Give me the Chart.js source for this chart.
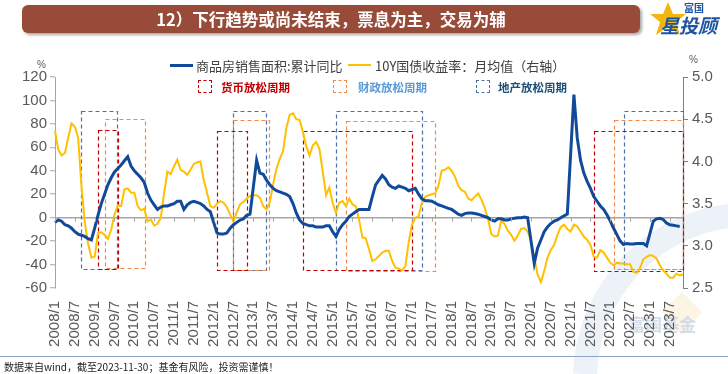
<!DOCTYPE html>
<html>
<head>
<meta charset="utf-8">
<script src="https://cdn.jsdelivr.net/npm/chart.js@4.4.0/dist/chart.umd.min.js"></script>
<style>
  html, body { margin: 0; padding: 0; background: #fff; }
  #wrap { position: relative; width: 728px; height: 374px; overflow: hidden; font-family: "Noto Sans CJK SC", sans-serif; }
  #wm { position: absolute; left: 0; top: 0; z-index: 0; }
  #c { position: absolute; left: 0; top: 0; z-index: 1; }
  .banner { position: absolute; left: 22px; top: 5px; width: 618px; height: 28px; background: #984B38; border-radius: 6px;
    box-shadow: 2px 2px 3px rgba(0,0,0,0.35); color: #fff; font-weight: bold; font-size: 16.5px; line-height: 28px; text-align: center; z-index: 2; }
  .abs { position: absolute; z-index: 2; white-space: nowrap; }
  .lg1 { font-size: 13px; color: #404040; }
  .lg2 { font-size: 11.5px; font-weight: bold; }
  .sw { position: absolute; z-index: 2; }
  .box { position: absolute; z-index: 2; width: 12px; height: 11px; border: 1px dashed; }
  .unit { font-family: Arial, "Liberation Sans", sans-serif; font-size: 10px; color: #595959; }
  .foot { left: 4px; top: 359px; font-size: 10px; color: #222; }
  .hr { position: absolute; left: 0; top: 356px; width: 728px; height: 1px; background: #8EA5C3; z-index: 2; }
</style>
</head>
<body>
<div id="wrap">
  <svg id="wm" width="728" height="374">
    <path d="M 585 374 A 165 165 0 0 1 740 215" fill="none" stroke="#EDF1F8" stroke-width="24"/>
    <polygon points="682,292 702,312 682,335 662,312" fill="#FCF5E4"/>
    <text x="628" y="331" font-size="17" font-weight="bold" fill="#D3DCE8" font-family="Noto Sans CJK SC">富国基金</text>
  </svg>
  <canvas id="c" width="728" height="374"></canvas>

  <div class="banner">12）下行趋势或尚未结束，票息为主，交易为辅</div>
  <svg class="abs" style="left:644px;top:0px" width="84" height="40">
    <polygon points="24,2 29,14 42,14 32,22 36,35 24,27 12,35 16,22 6,14 19,14" fill="#F2B70F"/>
    <text x="40" y="12" font-size="10" font-weight="bold" fill="#1D55A5" font-family="Noto Sans CJK SC">富国</text>
    <text x="16" y="33" font-size="19" font-weight="bold" fill="#1D55A5" font-family="Noto Sans CJK SC" font-style="italic">星投顾</text>
  </svg>

  <div class="abs unit" style="left:37px;top:59px">%</div>
  <div class="abs unit" style="left:689px;top:54px">%</div>

  <div class="sw" style="left:170px;top:64px;width:23px;height:3px;background:#124A9B"></div>
  <div class="abs lg1" style="left:196px;top:56px">商品房销售面积:累计同比</div>
  <div class="sw" style="left:348px;top:64px;width:23px;height:2px;background:#FFC000"></div>
  <div class="abs lg1" style="left:375px;top:56px">10Y国债收益率：月均值（右轴）</div>

  <div class="box" style="left:198px;top:80px;border-color:#C00000"></div>
  <div class="abs lg2" style="left:221px;top:79px;color:#C00000">货币放松周期</div>
  <div class="box" style="left:333px;top:80px;border-color:#F08A4B"></div>
  <div class="abs lg2" style="left:358px;top:79px;color:#5B9BD5">财政放松周期</div>
  <div class="box" style="left:476px;top:80px;border-color:#4E72A8"></div>
  <div class="abs lg2" style="left:498px;top:79px;color:#1F4E79">地产放松周期</div>

  <div class="hr"></div>
  <div class="abs foot">数据来自wind，截至2023-11-30；基金有风险，投资需谨慎！</div>
</div>

<script>
// 月份 2008/1 - 2023/11
const months = [];
for (let y = 2008; y <= 2023; y++) {
  for (let m = 1; m <= 12; m++) {
    if (y < 2023 || m <= 11) months.push(y + '/' + m);
  }
}

// 商品房销售面积:累计同比 (%), 左轴
const salesAreaYoY = [
  -4, -2, -3, -6, -7, -9, -12, -14, -15, -16, -18, -19,
  -9, 2, 12, 20, 28, 34, 39, 42, 45, 48.5, 52, 44,
  40, 37, 34, 30, 21, 15, 11, 7, 9, 10, 10, 11,
  12, 14, 14, 7, 11, 13, 14, 13, 12, 10, 7, 5,
  -4, -13, -14, -14, -13, -9, -6, -4, -2, -1, 2, 3,
  null, 49, 38, 37, 32, 28, 25, 23, 22, 21, 20, 18,
  12, 4, -2, -5, -6, -7, -7, -8, -8, -8, -7, -7,
  -12, -16, -10, -6, -3, 1, 3, 5, 7, 7, 7, 7,
  18, 28, 32, 36, 33, 28, 26, 25, 27, 26, 25, 23,
  24, 25, 20, 16, 14.5, 14.5, 14, 12.5, 11, 10, 9, 8,
  7, 5, 3, 2, 3.5, 4, 4, 3.5, 3, 2, 1, 0,
  -2, -3, -1, -1, -2, -2, -1, -0.5, 0, 0, 0.5, 0,
  null, -39, -26, -19, -12, -8, -5, -3, -2, 0, 1.5, 3,
  null, 105, 68, 49, 38, 31, 25, 18, 14, 10, 7, 2.5,
  -3, -9, -14.5, -20, -23, -22, -22.5, -22.5, -22, -22, -22, -24,
  null, -3, -1, -0.5, -1.5, -4.5, -6, -6.5, -7, -7.5, null
];

// 10Y国债收益率：月均值 (%), 右轴
const bondYield10Y = [
  4.36, 4.14, 4.07, 4.1, 4.28, 4.45, 4.41, 4.28, 3.71, 3.28, 3.03, 2.86,
  2.87, 3.15, 3.16, 3.13, 3.08, 3.19, 3.37, 3.48, 3.47, 3.67, 3.68, 3.63,
  3.63, 3.47, 3.42, 3.44, 3.29, 3.31, 3.24, 3.26, 3.33, 3.62, 3.88, 3.85,
  3.94, 4.02, 3.9, 3.88, 3.84, 3.9, 3.97, 3.99, 4.0, 3.78, 3.63, 3.47,
  3.45, 3.5, 3.53, 3.51, 3.46, 3.37, 3.29, 3.4, 3.49, 3.52, 3.56, 3.59,
  3.6, 3.6, 3.57, 3.47, 3.43, 3.52, 3.73, 3.91, 4.03, 4.12, 4.4, 4.55,
  4.57, 4.5, 4.49, 4.35, 4.18, 4.07, 4.19, 4.23, 4.15, 3.88, 3.6, 3.69,
  3.51, 3.39, 3.51, 3.53, 3.47, 3.56, 3.49, 3.47, 3.31, 3.1, 3.09, 2.96,
  2.82, 2.84, 2.88, 2.92, 2.94, 2.94, 2.82, 2.74, 2.73, 2.71, 2.76, 3.04,
  3.25, 3.33, 3.35, 3.51, 3.58, 3.6, 3.61, 3.62, 3.71, 3.89, 3.9, 3.93,
  3.89, 3.82, 3.71, 3.66, 3.64, 3.56, 3.54, 3.58, 3.62, 3.55, 3.45, 3.32,
  3.14, 3.11, 3.12, 3.3, 3.26, 3.18, 3.13, 3.06, 3.12, 3.2, 3.21, 3.17,
  3.06, 2.86, 2.66, 2.57, 2.7, 2.86, 2.95, 3.01, 3.13, 3.22, 3.25, 3.2,
  3.17, 3.25, 3.23, 3.17, 3.11, 3.07, 3.01, 2.87, 2.86, 2.95, 2.92, 2.86,
  2.8, 2.77, 2.8, 2.79, 2.79, 2.78, 2.78, 2.69, 2.68, 2.74, 2.84, 2.87,
  2.89, 2.88, 2.85, 2.77, 2.71, 2.67, 2.62, 2.62, 2.67, 2.65, 2.66
];

// 放松周期: [起, 止, 上沿(左轴值), 下沿(左轴值)]
const monetaryCycles = [
  ['2009/2', '2009/8', 75, -43.8],
  ['2012/2', '2012/11', 73.6, -45.2],
  ['2014/4', '2017/1', 73.6, -45.2],
  ['2021/8', '2023/11', 73.6, -45.8],
];
const fiscalCycles = [
  ['2009/4', '2010/4', 84.2, -42.9],
  ['2012/7', '2013/6', 83.6, -44.4],
  ['2015/5', '2017/8', 82.2, -45.8],
  ['2022/2', '2023/11', 83, -43.8],
];
const propertyCycles = [
  ['2008/9', '2009/8', 90.7, -43.8],
  ['2012/7', '2013/5', 90.7, -45.2],
  ['2015/2', '2017/4', 90.7, -45.2],
  ['2022/5', '2023/11', 90.7, -44.4],
];

const leftTicks = [-60, -40, -20, 0, 20, 40, 60, 80, 100, 120];
const rightTicks = [2.5, 3.0, 3.5, 4.0, 4.5, 5.0];

const GRAY = '#A6A6A6';
const tickFont = { family: 'Arial, "Liberation Sans", sans-serif', size: 15 };

// 周期框
const cycleBoxes = {
  id: 'cycleBoxes',
  beforeDatasetsDraw(chart) {
    const { ctx, scales: { x, y } } = chart;
    const groups = [
      [propertyCycles, '#4E72A8'],
      [fiscalCycles, '#F08A4B'],
      [monetaryCycles, '#C00000'],
    ];
    ctx.save();
    ctx.lineWidth = 1.2;
    ctx.setLineDash([4, 3]);
    groups.forEach(([list, color]) => {
      ctx.strokeStyle = color;
      list.forEach(([s, e, top, bottom]) => {
        const x1 = x.getPixelForValue(months.indexOf(s));
        const x2 = x.getPixelForValue(months.indexOf(e));
        const y1 = y.getPixelForValue(top);
        const y2 = y.getPixelForValue(bottom);
        ctx.strokeRect(Math.round(x1) + 0.5, Math.round(y1) + 0.5, Math.round(x2 - x1), Math.round(y2 - y1));
      });
    });
    ctx.restore();
  },
  // 零轴上的刻度
  afterDatasetsDraw(chart) {
    const { ctx, scales: { x, y } } = chart;
    const y0 = y.getPixelForValue(0);
    ctx.save();
    ctx.strokeStyle = GRAY;
    ctx.lineWidth = 1;
    months.forEach((m, i) => {
      if (i % 6 !== 0) return;
      const px = Math.round(x.getPixelForValue(i)) + 0.5;
      ctx.beginPath();
      ctx.moveTo(px, y0);
      ctx.lineTo(px, y0 + 4);
      ctx.stroke();
    });
    ctx.restore();
  }
};

new Chart(document.getElementById('c'), {
  type: 'line',
  data: {
    labels: months,
    datasets: [
      {
        label: '商品房销售面积:累计同比',
        data: salesAreaYoY,
        borderColor: '#124A9B',
        borderWidth: 3,
        pointRadius: 0,
        spanGaps: true,
        yAxisID: 'y',
        order: 0,
      },
      {
        label: '10Y国债收益率：月均值（右轴）',
        data: bondYield10Y,
        borderColor: '#FFC000',
        borderWidth: 2,
        pointRadius: 0,
        yAxisID: 'y1',
        order: 1,
      },
    ],
  },
  options: {
    responsive: false,
    animation: false,
    devicePixelRatio: 1,
    layout: { padding: { top: 77, left: 0, right: 0, bottom: 0 } },
    plugins: { legend: { display: false }, tooltip: { enabled: false } },
    scales: {
      x: {
        type: 'category',
        offset: false,
        grid: { display: false, drawTicks: false },
        border: { display: false },
        ticks: {
          autoSkip: false,
          minRotation: 90,
          maxRotation: 90,
          padding: 13,
          color: '#595959',
          font: tickFont,
          callback: (v, i) => (i % 6 === 0 ? months[i] : ''),
        },
        afterFit: s => { s.height = 86; },
      },
      y: {
        position: 'left',
        min: -60,
        max: 120,
        afterBuildTicks: s => { s.ticks = leftTicks.map(v => ({ value: v })); },
        border: { display: true, color: GRAY, width: 1 },
        grid: {
          color: c => (c.tick && c.tick.value === 0 ? GRAY : 'rgba(0,0,0,0)'),
          lineWidth: 1.5,
          tickColor: GRAY,
          tickLength: 5,
          tickWidth: 1,
        },
        ticks: { color: '#595959', font: tickFont, padding: 3 },
        afterFit: s => { s.width = 55; },
      },
      y1: {
        position: 'right',
        min: 2.5,
        max: 5,
        afterBuildTicks: s => { s.ticks = rightTicks.map(v => ({ value: v })); },
        border: { display: true, color: '#808080', width: 1 },
        grid: { drawOnChartArea: false, tickColor: '#808080', tickLength: 5 },
        ticks: { color: '#595959', font: tickFont, padding: 4, callback: v => v.toFixed(1) },
        afterFit: s => { s.width = 45; },
      },
    },
  },
  plugins: [cycleBoxes],
});
</script>
</body>
</html>
